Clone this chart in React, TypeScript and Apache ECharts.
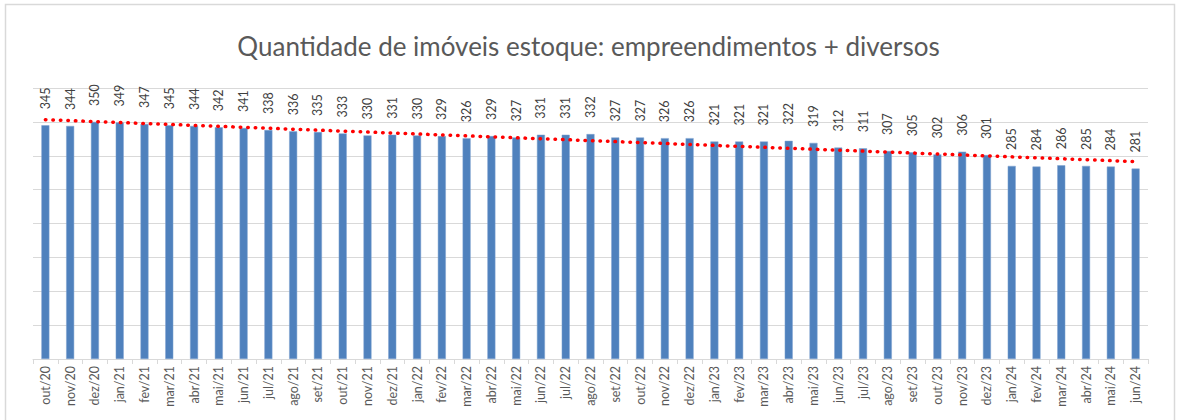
import React, { useEffect, useRef } from "react";
import * as echarts from "echarts";

const TITLE = "Quantidade de imóveis estoque: empreendimentos + diversos";

const months: string[] = [
  "out/20", "nov/20", "dez/20",
  "jan/21", "fev/21", "mar/21", "abr/21", "mai/21", "jun/21", "jul/21", "ago/21", "set/21", "out/21", "nov/21", "dez/21",
  "jan/22", "fev/22", "mar/22", "abr/22", "mai/22", "jun/22", "jul/22", "ago/22", "set/22", "out/22", "nov/22", "dez/22",
  "jan/23", "fev/23", "mar/23", "abr/23", "mai/23", "jun/23", "jul/23", "ago/23", "set/23", "out/23", "nov/23", "dez/23",
  "jan/24", "fev/24", "mar/24", "abr/24", "mai/24", "jun/24",
];

const stock: number[] = [
  345, 344, 350,
  349, 347, 345, 344, 342, 341, 338, 336, 335, 333, 330, 331,
  330, 329, 326, 329, 327, 331, 331, 332, 327, 327, 326, 326,
  321, 321, 321, 322, 319, 312, 311, 307, 305, 302, 306, 301,
  285, 284, 286, 285, 284, 281,
];

const yMin = 0;
const yMax = 400;
const yInterval = 50;

// Linear trendline (least squares), as the spreadsheet draws it
function linearTrend(values: number[]): number[] {
  const n = values.length;
  let sx = 0, sy = 0, sxy = 0, sxx = 0;
  values.forEach((v, i) => {
    sx += i; sy += v; sxy += i * v; sxx += i * i;
  });
  const slope = (n * sxy - sx * sy) / (n * sxx - sx * sx);
  const intercept = (sy - slope * sx) / n;
  return values.map((_, i) => intercept + slope * i);
}

export default function App() {
  const ref = useRef<HTMLDivElement>(null);
  useEffect(() => {
    document.body.style.margin = "0";
    if (!ref.current) return;
    const chart = echarts.init(ref.current, null, { renderer: "svg" });
    const trend = linearTrend(stock);
    chart.setOption({
      animation: false,
      backgroundColor: "#ffffff",
      textStyle: { fontFamily: "Lato" },
      title: {
        text: TITLE,
        left: "center",
        top: 28,
        textStyle: { fontFamily: "Lato", fontSize: 26, fontWeight: "normal", color: "#595959" },
      },
      graphic: [
        {
          type: "rect",
          shape: { x: 5.5, y: 4.5, width: 1169, height: 440 },
          style: { fill: "none", stroke: "#d9d9d9", lineWidth: 1.5 },
          silent: true,
        },
      ],
      grid: { left: 33, right: 29, top: 88, bottom: 61, containLabel: false },
      xAxis: {
        type: "category",
        data: months,
        boundaryGap: true,
        axisLine: { show: true, lineStyle: { color: "#d9d9d9", width: 1 } },
        axisTick: { show: true, length: 5, lineStyle: { color: "#d9d9d9" } },
        axisLabel: {
          rotate: 90,
          interval: 0,
          fontFamily: "Lato",
          fontSize: 12.5,
          color: "#595959",
          margin: 7,
        },
      },
      yAxis: {
        type: "value",
        min: yMin,
        max: yMax,
        interval: yInterval,
        axisLabel: { show: false },
        axisLine: { show: false },
        axisTick: { show: false },
        splitLine: { show: true, lineStyle: { color: "#d9d9d9", width: 1 } },
      },
      series: [
        {
          type: "bar",
          data: stock,
          barWidth: 8,
          itemStyle: { color: "#4f81bd", borderColor: "#7fa3d0", borderWidth: 0.5 },
          label: {
            show: true,
            position: "top",
            rotate: 90,
            align: "left",
            verticalAlign: "middle",
            distance: 16,
            fontFamily: "Lato",
            fontSize: 12.5,
            color: "#404040",
          },
          z: 2,
        },
        {
          type: "line",
          data: trend,
          showSymbol: false,
          symbol: "none",
          silent: true,
          lineStyle: { color: "#ff0000", width: 3.5, type: [0.5, 7], cap: "round" },
          z: 3,
        },
      ],
    });
    return () => chart.dispose();
  }, []);
  return <div ref={ref} style={{ width: 1177, height: 420 }} />;
}
